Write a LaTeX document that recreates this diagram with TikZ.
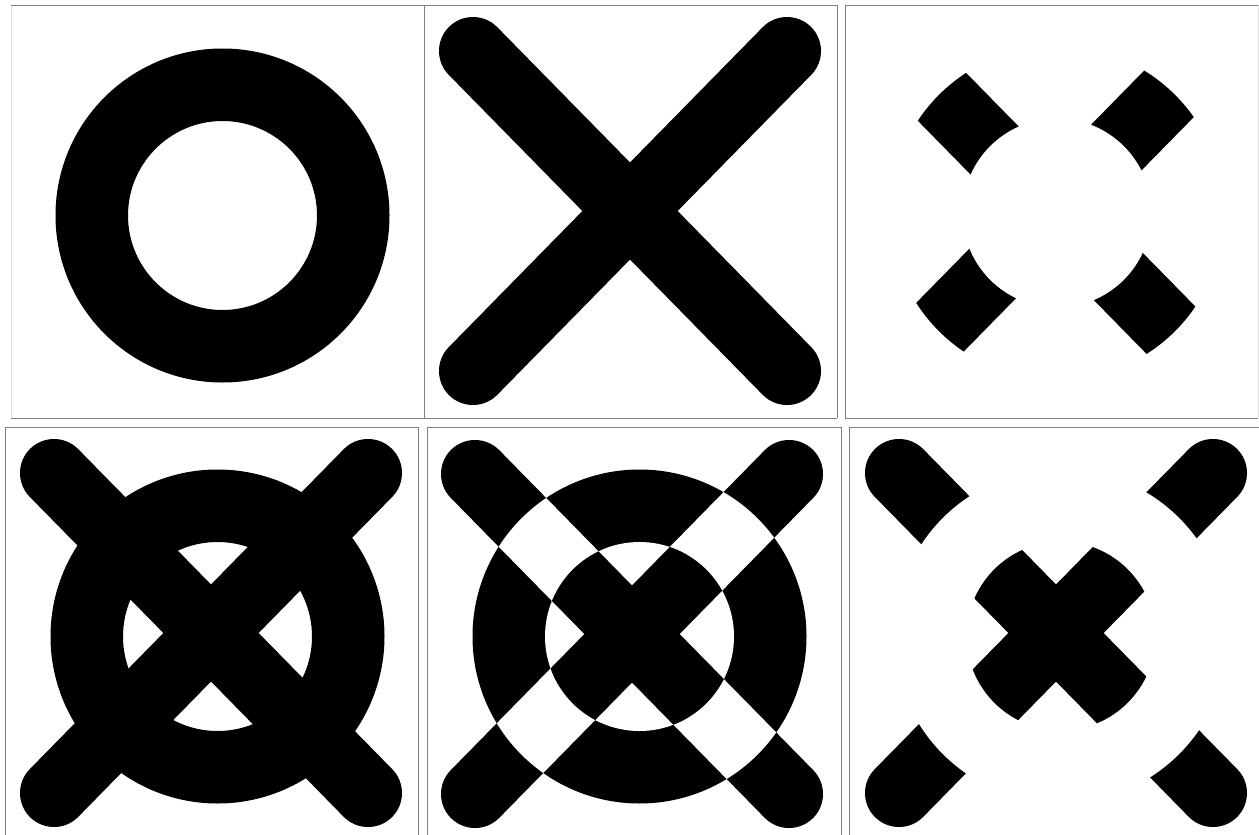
\documentclass[tikz,border=0pt]{standalone}
\begin{document}
\begin{tikzpicture}[x=1pt,y=-1pt,
  frame/.style={draw=black!50,line width=1pt},
  faint/.style={draw=black!12,line width=1pt},
  xarm/.style={line width=68pt,line cap=round},
]
\useasboundingbox (0,0) rectangle (1259,835);
\fill[white] (0,0) rectangle (1259,835);
\def\ro{167}\def\ri{94.5}
\newcommand{\xshape}[2]{%
  \draw[xarm,#2] (#1)++(-157,-160) -- ++(314,320);
  \draw[xarm,#2] (#1)++(157,-160) -- ++(-314,320);}
% X centres
\coordinate (c2) at (630,211);
\coordinate (c3) at (1054,211);
\coordinate (c4) at (211,633);
\coordinate (c5) at (632,634);
\coordinate (c6) at (1056,633);
% ring centres
\coordinate (r1) at (222.5,215.5);
\coordinate (r3) at (1057,213);
\coordinate (r4) at (217.5,636.5);
\coordinate (r5) at (639.5,636.5);
\coordinate (r6) at (1061,636);
% panel 1: ring
\fill[black,even odd rule] (r1) circle (\ro) (r1) circle (\ri);
% panel 2: X
\xshape{c2}{black}
% panel 3: intersection
\begin{scope}
  \clip (r3) circle (\ro);
  \xshape{c3}{black}
  \fill[white] (r3) circle (\ri);
\end{scope}
% panel 4: union
\begin{scope}
  \clip (5,427) rectangle (418,835);
  \fill[black,even odd rule] (r4) circle (\ro) (r4) circle (\ri);
  \xshape{c4}{black}
\end{scope}
% panel 5: xor
\begin{scope}
  \clip (427,427) rectangle (841,835);
  \xshape{c5}{black}
  \begin{scope}
    \clip (r5) circle (\ro);
    \fill[black] (r5) circle (\ro+1);
    \fill[white] (r5) circle (\ri);
    \xshape{c5}{white}
    \clip (r5) circle (\ri);
    \xshape{c5}{black}
  \end{scope}
\end{scope}
% panel 6: difference
\begin{scope}
  \clip (849,427) rectangle (1259,835);
  \xshape{c6}{black}
  \fill[white,even odd rule] (r6) circle (\ro) (r6) circle (\ri);
\end{scope}
% frames
\draw[faint] (11,5) -- (11,418);
\draw[faint] (1258,5) -- (1258,418);
\draw[frame] (11,5) -- (837,5);
\draw[frame] (11,418) -- (837,418);
\draw[frame] (424,5) -- (424,418);
\draw[frame] (837,5) -- (837,418);
\draw[frame] (845,418) -- (845,5) -- (1258,5);
\draw[frame] (845,418) -- (1258,418);
\draw[frame] (5,835) -- (5,427) -- (418,427) -- (418,835);
\draw[frame] (427,835) -- (427,427) -- (841,427) -- (841,835);
\draw[frame] (849,835) -- (849,427) -- (1259,427);
\end{tikzpicture}
\end{document}
